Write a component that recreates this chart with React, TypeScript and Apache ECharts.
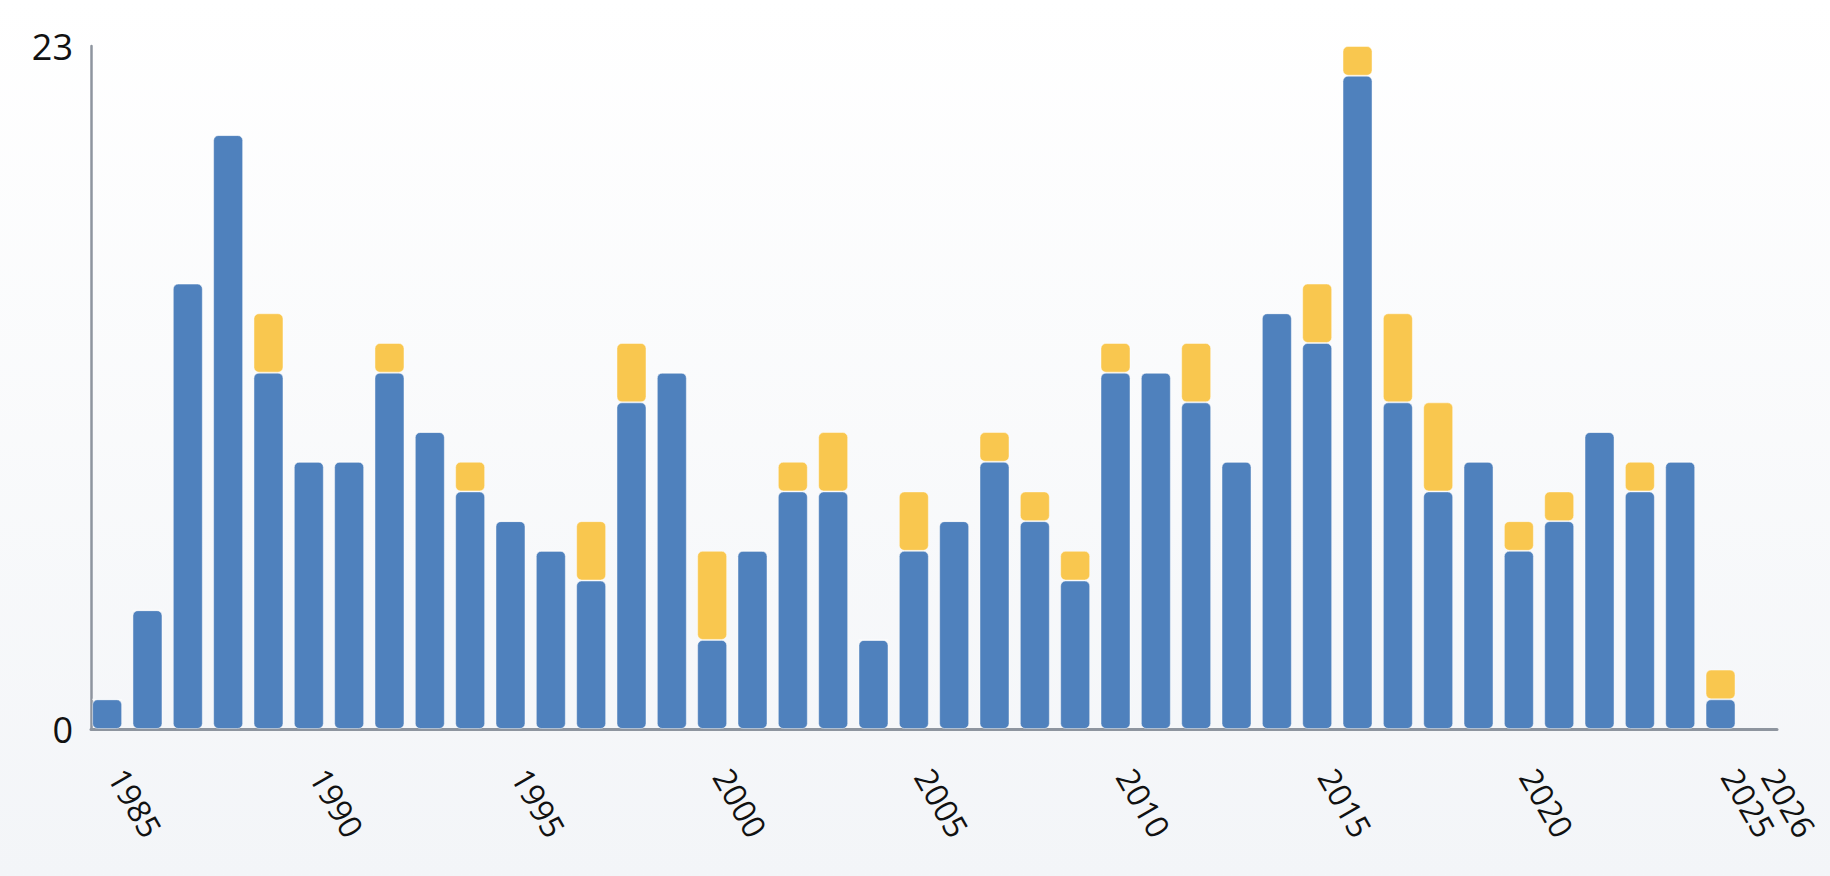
import React, { useEffect, useRef } from "react";
import * as echarts from "echarts";

const years: number[] = [
  1985, 1986, 1987, 1988, 1989, 1990, 1991, 1992, 1993, 1994,
  1995, 1996, 1997, 1998, 1999, 2000, 2001, 2002, 2003, 2004,
  2005, 2006, 2007, 2008, 2009, 2010, 2011, 2012, 2013, 2014,
  2015, 2016, 2017, 2018, 2019, 2020, 2021, 2022, 2023, 2024,
  2025,
];

const blueValues: number[] = [
  1, 4, 15, 20, 12, 9, 9, 12, 10, 8,
  7, 6, 5, 11, 12, 3, 6, 8, 8, 3,
  6, 7, 9, 7, 5, 12, 12, 11, 9, 14,
  13, 22, 11, 8, 9, 6, 7, 10, 8, 9,
  1,
];

const yellowValues: number[] = [
  0, 0, 0, 0, 2, 0, 0, 1, 0, 1,
  0, 0, 2, 2, 0, 3, 0, 1, 2, 0,
  2, 0, 1, 1, 1, 1, 0, 2, 0, 0,
  2, 1, 3, 3, 0, 1, 1, 0, 1, 0,
  1,
];

const xTickLabels: number[] = [1985, 1990, 1995, 2000, 2005, 2010, 2015, 2020, 2025, 2026];

const X_MIN = 1984.6;
const X_MAX = 2026.4;
const X_STEP = 0.05;
const LABEL_OFFSET = 0.25;
const Y_MAX = 23;

export default function App() {
  const ref = useRef<HTMLDivElement>(null);

  useEffect(() => {
    document.body.style.margin = "0";
    if (!ref.current) return;
    const chart = echarts.init(ref.current, undefined, { renderer: "svg" });
    const itemBase = {
      borderRadius: 5,
      borderWidth: 1,
      borderColor: "rgba(255,255,255,0.45)",
    };
    chart.setOption({
      animation: false,
      backgroundColor: new echarts.graphic.LinearGradient(0, 0, 0, 1, [
        { offset: 0, color: "#ffffff" },
        { offset: 1, color: "#f3f5f8" },
      ]),
      grid: { left: 91, right: 53, top: 46, bottom: 147, containLabel: false },
      xAxis: {
        type: "value",
        min: X_MIN,
        max: X_MAX,
        interval: X_STEP,
        splitLine: { show: false },
        axisTick: { show: false },
        axisLine: { show: true, onZero: false, lineStyle: { color: "#8e959f", width: 3 } },
        axisLabel: {
          rotate: -60,
          margin: 42,
          fontSize: 32,
          color: "#111111",
          fontFamily: "Open Sans",
          showMinLabel: false,
          showMaxLabel: false,
          formatter: (v: number) => {
            const shifted = Math.round((v - LABEL_OFFSET) * 1000) / 1000;
            const r = Math.round(shifted);
            if (Math.abs(shifted - r) < 1e-6 && xTickLabels.indexOf(r) >= 0) return String(r);
            return "";
          },
        },
      },
      yAxis: {
        type: "value",
        min: 0,
        max: Y_MAX,
        interval: Y_MAX,
        splitLine: { show: false },
        axisTick: { show: false },
        axisLine: { show: true, lineStyle: { color: "#8e959f", width: 2.5 } },
        axisLabel: {
          margin: 18,
          fontSize: 36,
          color: "#111111",
          fontFamily: "Open Sans",
        },
      },
      series: [
        {
          type: "bar",
          stack: "total",
          barWidth: 30,
          encode: { x: 1, y: 0 },
          data: years.map((y, i) => [blueValues[i], y]),
          itemStyle: { ...itemBase, color: "#4f81bd" },
        },
        {
          type: "bar",
          stack: "total",
          barWidth: 30,
          encode: { x: 1, y: 0 },
          data: years.map((y, i) => [yellowValues[i], y]),
          itemStyle: { ...itemBase, color: "#f9c74f" },
        },
      ],
    });
    return () => chart.dispose();
  }, []);

  return <div ref={ref} style={{ width: 1830, height: 876 }} />;
}
